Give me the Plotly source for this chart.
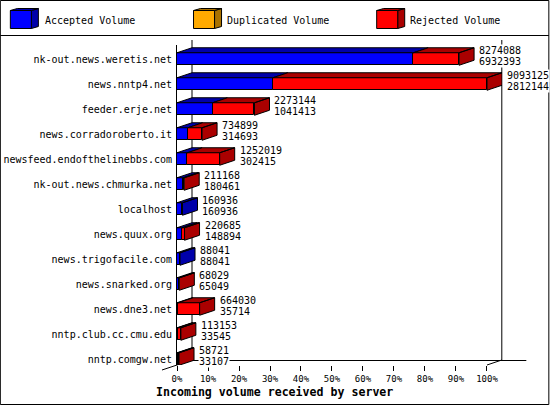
import plotly.graph_objects as go

servers = ['nk-out.news.weretis.net', 'news.nntp4.net', 'feeder.erje.net', 'news.corradoroberto.it',
           'newsfeed.endofthelinebbs.com', 'nk-out.news.chmurka.net', 'localhost', 'news.quux.org',
           'news.trigofacile.com', 'news.snarked.org', 'news.dne3.net', 'nntp.club.cc.cmu.edu', 'nntp.comgw.net']
total_volume = [8274088, 9093125, 2273144, 734899, 1252019, 211168, 160936, 220685, 88041, 68029, 664030, 113153, 58721]
accepted_volume = [6932393, 2812144, 1041413, 314693, 302415, 180461, 160936, 148894, 88041, 65049, 35714, 33545, 33107]
pct_ticks = [0, 10, 20, 30, 40, 50, 60, 70, 80, 90, 100]
legend_names = ['Accepted Volume', 'Duplicated Volume', 'Rejected Volume']

BLUE, DARK_BLUE = '#0000ff', '#0000aa'
ORANGE, DARK_ORANGE = '#ffaa00', '#aa7200'
RED, DARK_RED = '#ff0000', '#aa0000'
MONO = 'DejaVu Sans Mono'

# pixel frame of the plot area, R is the 100% mark
L, R, T, B = 177, 486.7, 45, 365
ROW = 25.0
DX = 15 / ((R - L) / 100)   # depth of the 3d look in axis units
DY = 5 / ROW
HALF = 0.25
R_BACK = R + 15             # axis runs on to the back wall so the last bar is not clipped
y_range = [(B - 59) / ROW, (T - 59) / ROW]


def px(x):
    return (x - L) / (R_BACK - L)


def py(y):
    return (B - y) / (B - T)


biggest = max(total_volume)
pct_total = [v / biggest * 100 for v in total_volume]
pct_acc = [v / biggest * 100 for v in accepted_volume]
rows = list(range(len(servers)))

top_blue_x, top_blue_y, top_red_x, top_red_y = [], [], [], []


def face(xs, ys, x0, x1, y0, y1, slant_x):
    # closed parallelogram, None starts the next one
    xs += [x0, x1, x1 + slant_x, x0 + slant_x, x0, None]
    ys += [y0, y1, y1 - DY, y0 - DY, y0, None]


for i in rows:
    top = i - HALF
    face(top_blue_x, top_blue_y, 0, pct_acc[i], top, top, DX)
    if pct_total[i] > pct_acc[i]:
        face(top_red_x, top_red_y, pct_acc[i], pct_total[i], top, top, DX)
        face(top_red_x, top_red_y, pct_total[i], pct_total[i], top, top + 2 * HALF, DX)
    else:
        face(top_blue_x, top_blue_y, pct_total[i], pct_total[i], top, top + 2 * HALF, DX)

fig = go.Figure()
fig.add_trace(go.Bar(y=rows, x=pct_acc, base=0, orientation='h', width=2 * HALF,
                     marker=dict(color=BLUE, line=dict(color='black', width=1))))
fig.add_trace(go.Bar(y=rows, x=[t - a for t, a in zip(pct_total, pct_acc)], base=pct_acc, orientation='h', width=2 * HALF,
                     marker=dict(color=RED, line=dict(color='black', width=1))))
for xs, ys, c in [(top_blue_x, top_blue_y, DARK_BLUE), (top_red_x, top_red_y, DARK_RED)]:
    fig.add_trace(go.Scatter(x=xs, y=ys, mode='lines', fill='toself', fillcolor=c, cliponaxis=False,
                             line=dict(color='black', width=1), hoverinfo='skip'))

shapes = []


def line(x0, y0, x1, y1):
    shapes.append(dict(type='line', xref='paper', yref='paper', x0=px(x0), y0=py(y0), x1=px(x1), y1=py(y1),
                       line=dict(color='black', width=1), layer='below'))


# page frame and legend rule
line(0.5, 0.5, 548.5, 0.5)
line(0.5, 0.5, 0.5, 404.5)
line(548.5, 0.5, 548.5, 404.5)
line(0.5, 404.5, 548.5, 404.5)
line(0.5, 35.5, 548.5, 35.5)
# back walls
line(192, 40, 192, 360)
line(501.5, 40, 501.5, 360)
line(192, 360.5, 526, 360.5)
line(162, 370, 192, 360)
line(486.7, 365, 501.5, 360)

# legend boxes
for x0, c, dark in [(10.5, BLUE, DARK_BLUE), (193.5, ORANGE, DARK_ORANGE), (376.5, RED, DARK_RED)]:
    x1 = x0 + 21
    corners = [(x0, 10.5), (x1, 10.5), (x1, 28.5), (x0, 28.5)]
    side = [(x1, 10.5), (x1 + 7, 8.5), (x1 + 7, 26.5), (x1, 28.5)]
    upper = [(x0, 10.5), (x0 + 7, 8.5), (x1 + 7, 8.5), (x1, 10.5)]
    for poly, fc in [(side, dark), (upper, dark), (corners, c)]:
        path = 'M' + ' L'.join(f'{px(a):.5f},{py(b):.5f}' for a, b in poly) + ' Z'
        shapes.append(dict(type='path', xref='paper', yref='paper', path=path, fillcolor=fc,
                           line=dict(color='black', width=1)))

annots = []
for name, x in zip(legend_names, [43, 225, 408]):
    annots.append(dict(xref='paper', yref='paper', x=px(x), y=py(20), text=name, showarrow=False, xanchor='left',
                       yanchor='middle', font=dict(family=MONO, size=10, color='black')))

# value labels next to the bars, white box hides the walls behind
for i in rows:
    for val, shift in [(total_volume[i], 9), (accepted_volume[i], -2)]:
        annots.append(dict(x=pct_total[i], y=i, xref='x', yref='y', text=str(val), showarrow=False, xanchor='left',
                           xshift=19, yshift=shift, bgcolor='white', borderpad=0,
                           font=dict(family=MONO, size=10, color='black')))

annots.append(dict(xref='paper', yref='paper', x=px(274), y=py(392), text='<b>Incoming volume received by server</b>',
                   showarrow=False, xanchor='center', yanchor='middle', font=dict(family=MONO, size=11.6, color='black')))

fig.update_layout(
    template='none',
    width=550, height=405, showlegend=False, barmode='overlay', bargap=0,
    paper_bgcolor='white', plot_bgcolor='white',
    margin=dict(l=L, r=550 - R_BACK, t=T, b=405 - B, autoexpand=False),
    shapes=shapes, annotations=annots,
    xaxis=dict(range=[0, 100 + DX], tickvals=pct_ticks, ticktext=[f'{p}%' for p in pct_ticks], showgrid=False, zeroline=False,
               automargin=False, showline=False, ticks='outside', ticklen=5,
               tickcolor='black', tickwidth=1, tickfont=dict(family=MONO, size=9, color='black')),
    yaxis=dict(range=y_range, tickvals=rows, ticktext=servers, showgrid=False, zeroline=False,
               automargin=False, showline=True, linecolor='black', linewidth=1, ticks='', ticklabelstandoff=2,
               tickfont=dict(family=MONO, size=10, color='black')),
)
fig.write_html("out.html", config=dict(displayModeBar=False), post_script="document.body.style.margin='0';")
